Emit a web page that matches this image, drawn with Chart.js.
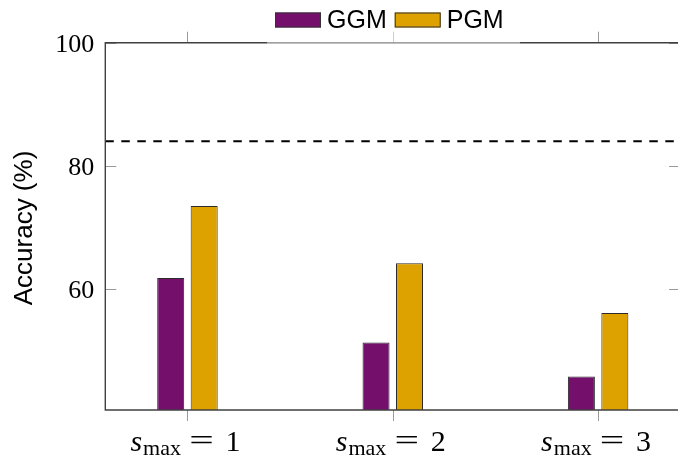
<!DOCTYPE html>
<html>
<head>
<meta charset="utf-8">
<script src="https://cdn.jsdelivr.net/npm/chart.js@4.4.1/dist/chart.umd.min.js"></script>
<style>
  html, body { margin: 0; padding: 0; background: #fff; overflow: hidden; }
  canvas { display: block; }
</style>
</head>
<body>
<canvas id="chart" width="678" height="457"></canvas>
<script>
// values
const categories = ['1', '2', '3'];      // s_max
const seriesNames = ['GGM', 'PGM'];
const ggmValues = [61.8, 51.3, 45.8];
const pgmValues = [73.5, 64.2, 56.1];
const referenceLine = 84.0;            // dashed line
const yTickValues = [60, 80, 100];
const yTitle = 'Accuracy (%)';

const purple = '#740f6c';
const gold = '#dda200';

// axes, ticks, dashed line, legend and x labels drawn by hand (pgfplots look)
const framePlugin = {
  id: 'frame',
  afterDatasetsDraw(chart) {
    const ctx = chart.ctx;
    const a = chart.chartArea;
    const x = chart.scales.x, y = chart.scales.y;
    ctx.save();

    // dashed reference line
    const yr = y.getPixelForValue(referenceLine);
    ctx.strokeStyle = '#000';
    ctx.lineWidth = 2;
    ctx.setLineDash([8.5, 7.5]);
    ctx.beginPath();
    ctx.moveTo(a.left, yr);
    ctx.lineTo(a.right, yr);
    ctx.stroke();
    ctx.setLineDash([]);

    // ticks: y inside, x outside
    ctx.strokeStyle = '#9a9a9a';
    ctx.lineWidth = 1;
    yTickValues.forEach(v => {
      const py = Math.round(y.getPixelForValue(v)) + 0.5;
      ctx.beginPath();
      ctx.moveTo(a.left, py); ctx.lineTo(a.left + 11, py);
      ctx.moveTo(a.right, py); ctx.lineTo(a.right - 9, py);
      ctx.stroke();
    });
    categories.forEach((c, i) => {
      const px = Math.round(x.getPixelForValue(i)) + 0.5;
      ctx.beginPath();
      ctx.moveTo(px, a.bottom); ctx.lineTo(px, a.bottom + 11);
      ctx.moveTo(px, a.top); ctx.lineTo(px, a.top - 11);
      ctx.stroke();
    });

    // frame (right side is off the picture)
    ctx.strokeStyle = '#404040';
    ctx.lineWidth = 1.4;
    ctx.beginPath();
    ctx.moveTo(a.right, a.top);
    ctx.lineTo(a.left, a.top);
    ctx.lineTo(a.left, a.bottom);
    ctx.lineTo(a.right, a.bottom);
    ctx.stroke();

    // legend with half transparent background over the top axis
    ctx.fillStyle = 'rgba(255,255,255,0.5)';
    ctx.fillRect(267, 0, 253, a.top + 1);
    ctx.font = '25px "Liberation Sans", Arial, sans-serif';
    ctx.textBaseline = 'alphabetic';
    ctx.textAlign = 'left';
    let lx = 275;
    chart.data.datasets.forEach(ds => {
      ctx.fillStyle = ds.backgroundColor;
      ctx.fillRect(lx, 12.5, 46, 15);
      ctx.strokeStyle = '#333';
      ctx.lineWidth = 1;
      ctx.strokeRect(lx + 0.5, 13, 45, 14);
      ctx.fillStyle = '#000';
      ctx.fillText(ds.label, lx + 52, 27.5);
      lx += 52 + ctx.measureText(ds.label).width + 8;
    });

    // x labels: s_max = n
    ctx.fillStyle = '#000';
    categories.forEach((c, i) => {
      const cx = x.getPixelForValue(i);
      const base = 451;
      ctx.textAlign = 'left';
      ctx.font = 'italic 30px "Liberation Serif", serif';
      ctx.fillText('s', cx - 57, base);
      const sw = ctx.measureText('s').width;
      ctx.font = '22px "Liberation Serif", serif';
      ctx.fillText('max', cx - 57 + sw + 1, base + 4);
      // wider equals sign, like the TeX one
      ctx.save();
      ctx.translate(cx + 14, base - 1);
      ctx.scale(1.45, 1);
      ctx.textAlign = 'center';
      ctx.font = '30px "Liberation Serif", serif';
      ctx.fillText('=', 0, 0);
      ctx.restore();
      ctx.textAlign = 'left';
      ctx.font = '30px "Liberation Serif", serif';
      ctx.fillText(c, cx + 38, base);
    });

    // y title
    ctx.translate(32, 228);
    ctx.rotate(-Math.PI / 2);
    ctx.textAlign = 'center';
    ctx.font = '26px "Liberation Sans", Arial, sans-serif';
    ctx.fillText(yTitle, 0, 0);

    ctx.restore();
  }
};

const chart = new Chart(document.getElementById('chart'), {
  type: 'bar',
  data: {
    datasets: [
      {
        label: seriesNames[0],
        data: ggmValues.map((v, i) => ({x: i, y: v})),
        backgroundColor: purple,
        borderColor: '#2b2b2b',
        borderWidth: 1,
        borderSkipped: false
      },
      {
        label: seriesNames[1],
        data: pgmValues.map((v, i) => ({x: i, y: v})),
        backgroundColor: gold,
        borderColor: '#2b2b2b',
        borderWidth: 1,
        borderSkipped: false
      }
    ]
  },
  options: {
    responsive: false,
    animation: false,
    categoryPercentage: 0.326,
    barPercentage: 0.807,
    layout: {padding: {top: 42.7, left: 0, right: 0, bottom: 0}},
    plugins: {
      legend: {display: false},
      tooltip: {enabled: false}
    },
    scales: {
      x: {
        type: 'linear',
        offset: false,
        bounds: 'data',
        min: -0.4,
        max: 2.389,
        grid: {display: false, drawTicks: false, offset: false},
        border: {display: false},
        ticks: {display: false},
        afterBuildTicks: s => { s.ticks = categories.map((c, i) => ({value: i})); },
        afterFit: s => { s.height = 47; }
      },
      y: {
        min: 40.35,
        max: 100,
        bounds: 'data',
        grid: {display: false, drawTicks: false},
        border: {display: false},
        ticks: {
          color: '#000',
          padding: 11,
          labelOffset: 2,
          font: {family: '"Liberation Serif", serif', size: 26}
        },
        afterBuildTicks: s => { s.ticks = yTickValues.map(v => ({value: v})); },
        afterFit: s => { s.width = 105.3; }
      }
    }
  },
  plugins: [framePlugin]
});
</script>
</body>
</html>
